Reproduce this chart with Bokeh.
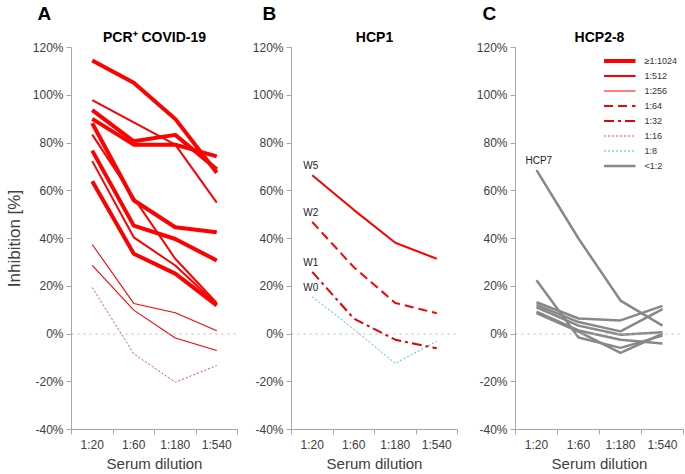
from bokeh.plotting import figure
from bokeh.models import (Range1d, LinearAxis, FixedTicker, CustomJSTickFormatter,
                          PrintfTickFormatter, Span, Title, Legend, LegendItem, ColumnDataSource)
from bokeh.layouts import row
from bokeh.embed import file_html
from bokeh.resources import INLINE
from bokeh.core.properties import value

# ---------------- data ----------------
dilutions = ["1:20", "1:60", "1:180", "1:540"]
y_ticks = [-40, -20, 0, 20, 40, 60, 80, 100, 120]

# Panel A: PCR+ COVID-19, grouped by neutralisation titer
pcr_titer_1024 = [
    [114.6, 105.2, 90.1, 67.5],
    [93.8, 80.7, 83.4, 69.0],
    [90.1, 79.3, 79.3, 74.4],
    [88.3, 56.0, 44.7, 42.6],
    [76.8, 45.4, 39.8, 30.8],
    [64.0, 33.6, 25.3, 12.0],
]
pcr_titer_512 = [
    [98.0, 88.6, 79.3, 55.0],
    [83.5, 57.0, 31.5, 13.0],
    [72.4, 40.5, 28.7, 12.5],
]
pcr_titer_256 = [
    [37.5, 12.8, 8.9, 1.4],
    [28.7, 10.0, -1.7, -6.9],
]
pcr_titer_16 = [
    [19.5, -8.3, -20.2, -13.2],
]

# Panel B: HCP1 (weeks)
hcp1_labels = ["W5", "W2", "W1", "W0"]
hcp1_w5 = [66.5, 52.0, 38.2, 31.5]
hcp1_w2 = [46.9, 28.0, 13.0, 8.7]
hcp1_w1 = [26.0, 6.5, -2.4, -6.0]
hcp1_w0 = [15.6, 2.0, -12.3, -3.0]

# Panel C: HCP2-8
hcp7_label = "HCP7"
hcp7 = [68.6, 40.0, 14.0, 3.5]
hcp_others = [
    [22.5, -1.5, -5.8, -0.7],
    [13.3, 6.5, 5.7, 11.8],
    [12.2, 5.0, 1.1, 10.4],
    [11.2, 3.5, -0.3, 0.7],
    [9.4, 1.5, -2.4, -4.0],
    [8.7, 1.0, -7.9, 0.1],
]

legend_labels = ["≥1:1024", "1:512", "1:256", "1:64", "1:32", "1:16", "1:8", "<1:2"]

# category positions on the axis (centre of each dilution slot)
N = len(dilutions)
xpos = [i + 0.5 for i in range(N)]

# ---------------- styles ----------------
RED = "#ff0000"
STY = {
    "≥1:1024": dict(line_color=RED, line_width=4),
    "1:512": dict(line_color=RED, line_width=2),
    "1:256": dict(line_color=RED, line_width=1.1),
    "1:64": dict(line_color=RED, line_width=2, line_dash="9 5"),
    "1:32": dict(line_color="#e60000", line_width=2, line_dash="10 4 3 4"),
    "1:16": dict(line_color="#f04848", line_width=1, line_dash="2 2"),
    "1:8": dict(line_color="#3cbfdc", line_width=1, line_dash="2 2"),
    "<1:2": dict(line_color="#888888", line_width=2.5),
}
FONT = "Liberation Sans"
AXIS_GRAY = "#a6a6a6"
TXT = "#404040"
H = 474


def make_panel(width, left, right, title, letter, letter_dx, ylabel=None):
    p = figure(width=width, height=H, x_range=Range1d(0, N), y_range=Range1d(-40, 120),
               output_backend="svg", toolbar_location=None, x_axis_location=None,
               title_location=None, min_border_left=left, min_border_right=right,
               min_border_top=46, min_border_bottom=20)
    p.outline_line_color = None
    p.background_fill_color = "white"
    p.border_fill_color = "white"

    yax = p.yaxis[0]
    yax.ticker = FixedTicker(ticks=y_ticks)
    yax.formatter = PrintfTickFormatter(format="%d%%")
    yax.axis_line_color = AXIS_GRAY
    yax.major_tick_line_color = AXIS_GRAY
    yax.major_tick_out = 5
    yax.major_tick_in = 0
    yax.minor_tick_out = 0
    yax.minor_tick_in = 0
    yax.major_label_standoff = 3
    yax.major_label_text_font = FONT
    yax.major_label_text_font_size = "12px"
    yax.major_label_text_color = TXT
    if ylabel:
        yax.axis_label = ylabel
        yax.axis_label_standoff = 6
        yax.axis_label_text_font = FONT
        yax.axis_label_text_font_size = "17px"
        yax.axis_label_text_font_style = "normal"
        yax.axis_label_text_color = TXT

    xa = LinearAxis(ticker=FixedTicker(ticks=xpos, minor_ticks=list(range(N + 1))),
                    formatter=CustomJSTickFormatter(args=dict(labels=dilutions),
                                                    code="return labels[Math.floor(tick)];"),
                    axis_label="Serum dilution")
    xa.axis_line_color = AXIS_GRAY
    xa.major_tick_out = 0
    xa.major_tick_in = 0
    xa.minor_tick_out = 5
    xa.minor_tick_in = 0
    xa.minor_tick_line_color = AXIS_GRAY
    xa.major_label_standoff = 3
    xa.major_label_text_font = FONT
    xa.major_label_text_font_size = "12px"
    xa.major_label_text_color = TXT
    xa.axis_label_standoff = 0
    xa.axis_label_text_font = FONT
    xa.axis_label_text_font_size = "15px"
    xa.axis_label_text_font_style = "normal"
    xa.axis_label_text_color = TXT
    p.add_layout(xa, "below")

    for g in p.grid:
        g.visible = False

    p.add_layout(Span(location=0, dimension="width", line_color="#b8b8b8",
                      line_dash="dotted", line_width=1))

    p.add_layout(Title(text=title, align="center", text_font=FONT, text_font_style="bold",
                       text_font_size="14px", text_color="black", standoff=6), "above")
    p.add_layout(Title(text=letter, align="left", offset=letter_dx, text_font=FONT,
                       text_font_style="bold", text_font_size="19px", text_color="black",
                       standoff=0), "above")
    return p


# ---------------- panel A ----------------
pA = make_panel(249, 71, 12, "PCR\u207a COVID-19", "A", -34, ylabel="Inhibition [%]")
for series in pcr_titer_256:
    pA.line(x=xpos, y=series, **STY["1:256"])
for series in pcr_titer_16:
    pA.line(x=xpos, y=series, **STY["1:16"])
for series in pcr_titer_512:
    pA.line(x=xpos, y=series, **STY["1:512"])
for series in pcr_titer_1024:
    pA.line(x=xpos, y=series, **STY["≥1:1024"])

# ---------------- panel B ----------------
pB = make_panel(224, 42, 16, "HCP1", "B", -29)
pB.line(x=xpos, y=hcp1_w0, **STY["1:8"])
pB.line(x=xpos, y=hcp1_w1, **STY["1:32"])
pB.line(x=xpos, y=hcp1_w2, **STY["1:64"])
pB.line(x=xpos, y=hcp1_w5, **STY["1:512"])
lab_src = ColumnDataSource(dict(x=[xpos[0]] * 4,
                                y=[hcp1_w5[0], hcp1_w2[0], hcp1_w1[0], hcp1_w0[0]],
                                t=hcp1_labels))
pB.text(x="x", y="y", text="t", source=lab_src, x_offset=-9, y_offset=-4,
        text_baseline="bottom", text_align="left", text_font=value(FONT),
        text_font_size="10px", text_color="#222222")

# ---------------- panel C ----------------
pC = make_panel(212, 42, 2, "HCP2-8", "C", -33)
gray_renderers = []
for series in hcp_others:
    gray_renderers.append(pC.line(x=xpos, y=series, **STY["<1:2"]))
gray_renderers.append(pC.line(x=xpos, y=hcp7, **STY["<1:2"]))
pC.text(x=[xpos[0]], y=[hcp7[0]], text=[hcp7_label], x_offset=-11, y_offset=-4,
        text_baseline="bottom", text_align="left", text_font=value(FONT),
        text_font_size="10px", text_color="#222222")

# legend key renderers (no visible data point; they only carry the line style)
items = []
nan = float("nan")
for lab in legend_labels:
    if lab == "<1:2":
        items.append(LegendItem(label=lab, renderers=[gray_renderers[-1]]))
        continue
    r = pC.line(x=[nan], y=[nan], **STY[lab])
    items.append(LegendItem(label=lab, renderers=[r]))
leg = Legend(items=items, location="top_right", border_line_color=None,
             background_fill_alpha=0, glyph_width=32, glyph_height=15, label_height=15,
             spacing=0, padding=0, margin=6, label_standoff=9,
             label_text_font=FONT, label_text_font_size="9px", label_text_color="#333333")
pC.add_layout(leg)

layout = row(pA, pB, pC)
open("out.html", "w").write(file_html(layout, INLINE))
